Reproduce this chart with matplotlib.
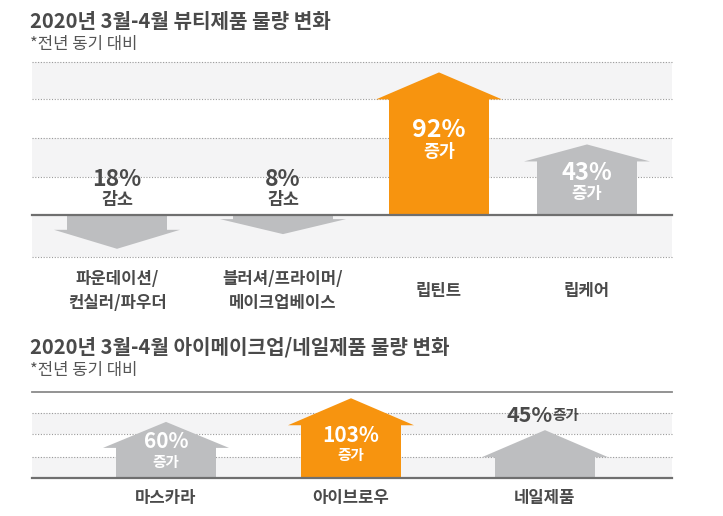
import matplotlib.pyplot as plt
from matplotlib.patches import Polygon

plt.rcParams['font.family'] = ['Noto Sans CJK KR', 'DejaVu Sans']

# 2020년 3월-4월 뷰티제품 물량 변화 (전년 동기 대비, %)
beauty_labels = ['파운데이션/\n컨실러/파우더', '블러셔/프라이머/\n메이크업베이스', '립틴트', '립케어']
beauty_change = [-18, -8, 92, 43]

# 2020년 3월-4월 아이메이크업/네일제품 물량 변화
eye_labels = ['마스카라', '아이브로우', '네일제품']
eye_change = [60, 103, 45]

ORANGE = '#F7940F'
GREY = '#BDBEC0'
BAND = '#F4F4F5'
DARK = '#4A4A4A'
W, H = 723, 516


def px_axes(fig, x0, y0, x1, y1):
    return fig.add_axes([x0 / W, 1 - y1 / H, (x1 - x0) / W, (y1 - y0) / H])


def arrow(ax, xc, tip, head, color):
    s = 1 if tip > 0 else -1
    e = tip - s * head
    pts = [(xc - 50, 0), (xc - 50, e), (xc - 63, e), (xc, tip),
           (xc + 63, e), (xc + 50, e), (xc + 50, 0)]
    ax.add_patch(Polygon(pts, closed=True, facecolor=color, edgecolor='none', zorder=3))


def panel(ax, base_px, k, top_px, bot_px, grid_px, bands_px, solid_top):
    # k = pixels per percent, base_px = baseline pixel row
    d = lambda p: (base_px - p) / k
    ax.set_xlim(32, 672)
    ax.set_ylim(d(bot_px), d(top_px))
    ax.axis('off')
    for a, b in bands_px:
        ax.axhspan(d(b), d(a), color=BAND, lw=0, zorder=0)
    for g in grid_px:
        ax.axhline(d(g), color='#9a9a9a', lw=0.8, ls=(0, (1, 1.5)), zorder=1, clip_on=False)
    ax.axhline(0, color='#6f6f6f', lw=1.6, zorder=4, clip_on=False)
    if solid_top:
        ax.axhline(d(top_px), color='#8a8a8a', lw=1.3, zorder=1, clip_on=False)
    return d


fig = plt.figure(figsize=(W / 100, H / 100), dpi=100)

# titles
fig.text(30 / W, 1 - 21 / H, '2020년 3월-4월 뷰티제품 물량 변화', fontsize=14.5,
         fontweight='bold', color=DARK, va='center')
fig.text(30 / W, 1 - 44 / H, '*전년 동기 대비', fontsize=12, color='#555555', va='center')
fig.text(30 / W, 1 - 347 / H, '2020년 3월-4월 아이메이크업/네일제품 물량 변화', fontsize=14.5,
         fontweight='bold', color=DARK, va='center')
fig.text(30 / W, 1 - 370 / H, '*전년 동기 대비', fontsize=12, color='#555555', va='center')

# ---- top panel ----
k1 = 1.47
ax1 = px_axes(fig, 32, 62, 672, 257)
d1 = panel(ax1, 215, k1, 62, 257, [62, 99, 138, 177, 257],
           [(62, 99), (138, 177), (215, 257)], False)
xs1 = [117, 283, 439, 587]
heads1 = [19, 15, 27, 17]
lab1 = [(35, 15), (35, 15), (85, 63), (42, 21)]
fs1 = [16.5, 16.5, 18, 17]
peak1 = max(beauty_change)
for x, v, h, (lp, lt), fs, name in zip(xs1, beauty_change, heads1, lab1, fs1, beauty_labels):
    tip = v + 5 if v > 0 else v - 5
    col = ORANGE if v == peak1 else GREY
    arrow(ax1, x, tip, h / k1, col)
    tc = 'white' if v > 0 else DARK
    word = '증가' if v > 0 else '감소'
    ax1.text(x, lp / k1, f'{abs(v)}%', ha='center', va='center',
             fontsize=fs, fontweight='bold', color=tc, zorder=5)
    ax1.text(x, lt / k1, word, ha='center', va='center',
             fontsize=12.5 if v != 43 else 12, fontweight='bold', color=tc, zorder=5)
    ax1.text(x, d1(291), name, ha='center', va='center', fontsize=12,
             fontweight='bold', color=DARK, linespacing=1.4, clip_on=False)

# ---- bottom panel ----
k2 = 0.55
ax2 = px_axes(fig, 32, 392, 672, 478)
d2 = panel(ax2, 478, k2, 392, 478, [413, 434, 457],
           [(413, 434), (457, 478)], True)
xs2 = [166, 351, 545]
heads2 = [26, 27, 27]
lab2 = [(36, 16), (42, 23), (63, 63)]
peak2 = max(eye_change)
for x, v, h, (lp, lt), name in zip(xs2, eye_change, heads2, lab2, eye_labels):
    tip = v + 42
    col = ORANGE if v == peak2 else GREY
    arrow(ax2, x, tip, h / k2, col)
    if v == min(eye_change):
        ax2.text(x + 8, lp / k2, f'{v}%', ha='right', va='center', fontsize=15.5,
                 fontweight='bold', color=DARK, zorder=5)
        ax2.text(x + 7, lp / k2, '증가', ha='left', va='center', fontsize=10.5,
                 fontweight='bold', color=DARK, zorder=5)
    else:
        ax2.text(x, lp / k2, f'{v}%', ha='center', va='center', fontsize=15,
                 fontweight='bold', color='white', zorder=5)
        ax2.text(x, lt / k2, '증가', ha='center', va='center', fontsize=10.5,
                 fontweight='bold', color='white', zorder=5)
    ax2.text(x, d2(498), name, ha='center', va='center', fontsize=12,
             fontweight='bold', color=DARK, clip_on=False)

fig.savefig('out.png', dpi=100)
